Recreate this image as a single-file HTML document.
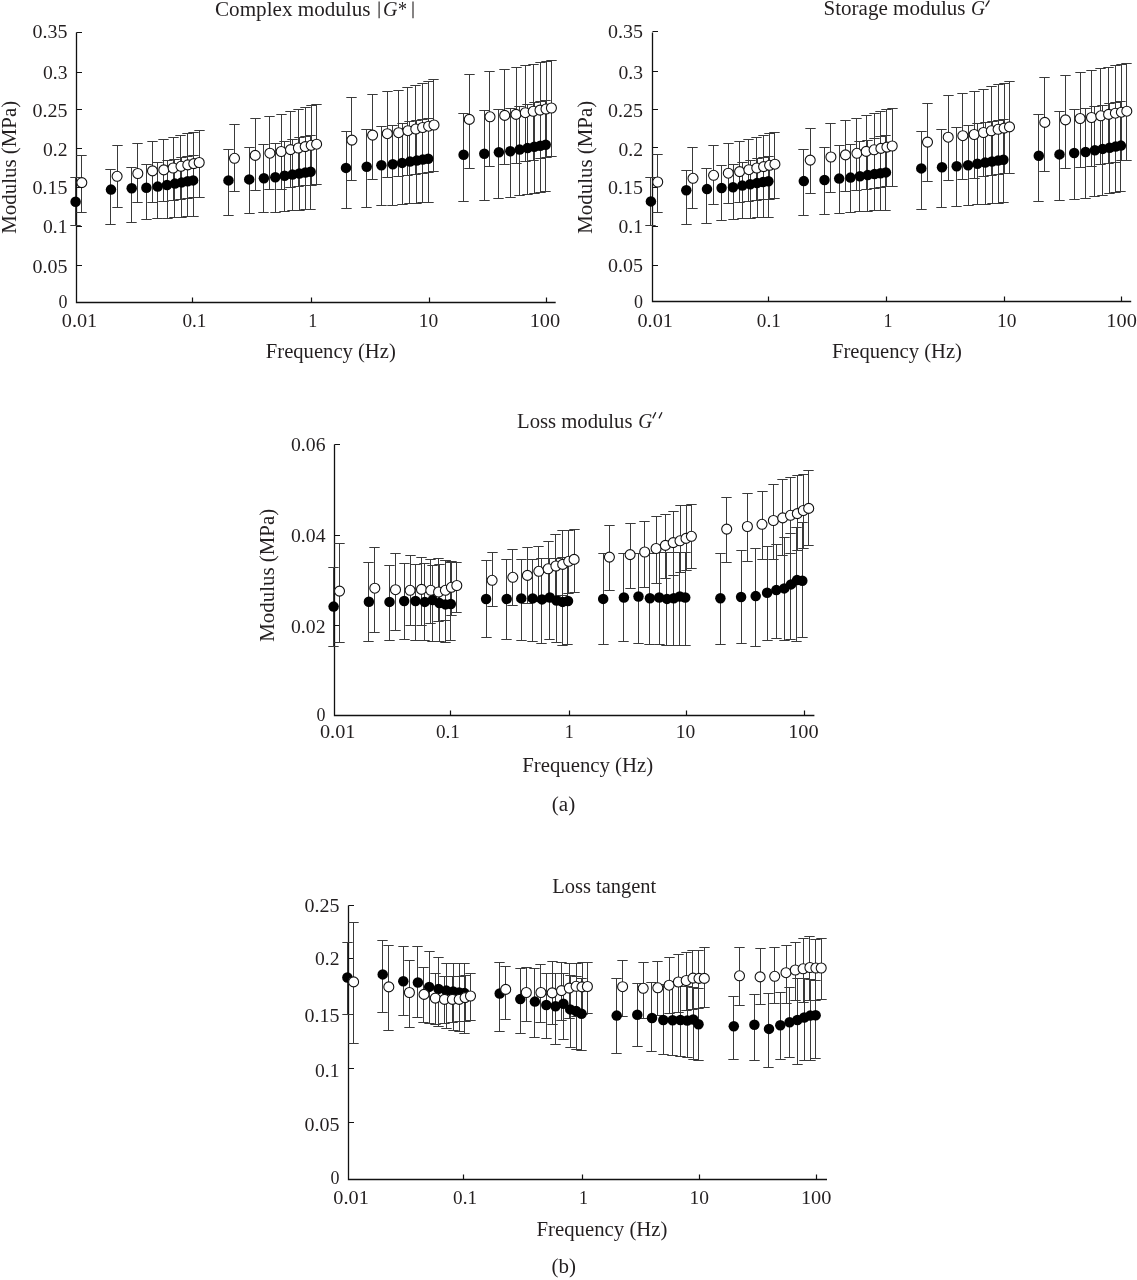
<!DOCTYPE html>
<html><head><meta charset="utf-8"><style>
html,body{margin:0;padding:0;background:#fff;}
svg{display:block;will-change:transform;}
text{font-family:"Liberation Serif",serif;fill:#231f20;}
</style></head><body>
<svg width="1137" height="1280" viewBox="0 0 1137 1280">
<path d="M76.5 32.5V302.5H555.7" fill="none" stroke="#111" stroke-width="1.3"/>
<path d="M76.5 265.5h5.5M76.5 226.5h5.5M76.5 187.5h5.5M76.5 148.5h5.5M76.5 109.5h5.5M76.5 72.5h5.5M76.5 32.5h5.5M192.5 302.5v-5M311.5 302.5v-5M429.5 302.5v-5M546.5 302.5v-5" fill="none" stroke="#111" stroke-width="1.2"/>
<text x="67.5" y="37.9" font-size="19.5" text-anchor="end" textLength="35" lengthAdjust="spacingAndGlyphs" >0.35</text>
<text x="67.5" y="79.1" font-size="19.5" text-anchor="end" textLength="24.5" lengthAdjust="spacingAndGlyphs" >0.3</text>
<text x="67.5" y="116.7" font-size="19.5" text-anchor="end" textLength="35" lengthAdjust="spacingAndGlyphs" >0.25</text>
<text x="67.5" y="155.8" font-size="19.5" text-anchor="end" textLength="24.5" lengthAdjust="spacingAndGlyphs" >0.2</text>
<text x="67.5" y="194.4" font-size="19.5" text-anchor="end" textLength="35" lengthAdjust="spacingAndGlyphs" >0.15</text>
<text x="67.5" y="233.3" font-size="19.5" text-anchor="end" textLength="24.5" lengthAdjust="spacingAndGlyphs" >0.1</text>
<text x="67.5" y="272.7" font-size="19.5" text-anchor="end" textLength="35" lengthAdjust="spacingAndGlyphs" >0.05</text>
<text x="67.5" y="307.8" font-size="19.5" text-anchor="end" textLength="9" lengthAdjust="spacingAndGlyphs" >0</text>
<text x="79.5" y="326.7" font-size="19.5" text-anchor="middle" textLength="35.5" lengthAdjust="spacingAndGlyphs" >0.01</text>
<text x="194.4" y="326.7" font-size="19.5" text-anchor="middle" textLength="24" lengthAdjust="spacingAndGlyphs" >0.1</text>
<text x="312.7" y="326.7" font-size="19.5" text-anchor="middle" textLength="9" lengthAdjust="spacingAndGlyphs" >1</text>
<text x="428.6" y="326.7" font-size="19.5" text-anchor="middle" textLength="19.5" lengthAdjust="spacingAndGlyphs" >10</text>
<text x="544.9" y="326.7" font-size="19.5" text-anchor="middle" textLength="30.5" lengthAdjust="spacingAndGlyphs" >100</text>
<path d="M75.5 177.5V225.5M70.3 177.5h10.4M70.3 225.5h10.4M110.5 169.5V224.5M105.3 169.5h10.4M105.3 224.5h10.4M131.5 167.5V222.5M126.3 167.5h10.4M126.3 222.5h10.4M146.5 164.5V219.5M141.3 164.5h10.4M141.3 219.5h10.4M157.5 162.5V218.5M152.3 162.5h10.4M152.3 218.5h10.4M167.5 160.5V218.5M162.3 160.5h10.4M162.3 218.5h10.4M174.5 159.5V217.5M169.3 159.5h10.4M169.3 217.5h10.4M181.5 157.5V217.5M176.3 157.5h10.4M176.3 217.5h10.4M187.5 156.5V216.5M182.3 156.5h10.4M182.3 216.5h10.4M193.5 155.5V216.5M188.3 155.5h10.4M188.3 216.5h10.4M228.5 149.5V215.5M223.3 149.5h10.4M223.3 215.5h10.4M249.5 147.5V213.5M244.3 147.5h10.4M244.3 213.5h10.4M263.5 144.5V212.5M258.3 144.5h10.4M258.3 212.5h10.4M275.5 143.5V212.5M270.3 143.5h10.4M270.3 212.5h10.4M284.5 141.5V211.5M279.3 141.5h10.4M279.3 211.5h10.4M292.5 139.5V210.5M287.3 139.5h10.4M287.3 210.5h10.4M299.5 137.5V210.5M294.3 137.5h10.4M294.3 210.5h10.4M305.5 136.5V209.5M300.3 136.5h10.4M300.3 209.5h10.4M310.5 135.5V209.5M305.3 135.5h10.4M305.3 209.5h10.4M346.5 131.5V208.5M341.3 131.5h10.4M341.3 208.5h10.4M366.5 129.5V207.5M361.3 129.5h10.4M361.3 207.5h10.4M381.5 126.5V205.5M376.3 126.5h10.4M376.3 205.5h10.4M392.5 125.5V205.5M387.3 125.5h10.4M387.3 205.5h10.4M402.5 123.5V204.5M397.3 123.5h10.4M397.3 204.5h10.4M409.5 121.5V203.5M404.3 121.5h10.4M404.3 203.5h10.4M416.5 120.5V203.5M411.3 120.5h10.4M411.3 203.5h10.4M422.5 119.5V202.5M417.3 119.5h10.4M417.3 202.5h10.4M428.5 118.5V202.5M423.3 118.5h10.4M423.3 202.5h10.4M463.5 113.5V201.5M458.3 113.5h10.4M458.3 201.5h10.4M484.5 110.5V200.5M479.3 110.5h10.4M479.3 200.5h10.4M498.5 109.5V198.5M493.3 109.5h10.4M493.3 198.5h10.4M510.5 108.5V197.5M505.3 108.5h10.4M505.3 197.5h10.4M519.5 106.5V195.5M514.3 106.5h10.4M514.3 195.5h10.4M527.5 104.5V194.5M522.3 104.5h10.4M522.3 194.5h10.4M534.5 102.5V193.5M529.3 102.5h10.4M529.3 193.5h10.4M540.5 101.5V192.5M535.3 101.5h10.4M535.3 192.5h10.4M545.5 100.5V191.5M540.3 100.5h10.4M540.3 191.5h10.4M81.5 155.5V212.5M76.3 155.5h10.4M76.3 212.5h10.4M117.5 145.5V207.5M112.3 145.5h10.4M112.3 207.5h10.4M137.5 143.5V202.5M132.3 143.5h10.4M132.3 202.5h10.4M152.5 141.5V202.5M147.3 141.5h10.4M147.3 202.5h10.4M163.5 139.5V201.5M158.3 139.5h10.4M158.3 201.5h10.4M173.5 137.5V200.5M168.3 137.5h10.4M168.3 200.5h10.4M180.5 135.5V199.5M175.3 135.5h10.4M175.3 199.5h10.4M187.5 133.5V198.5M182.3 133.5h10.4M182.3 198.5h10.4M193.5 132.5V197.5M188.3 132.5h10.4M188.3 197.5h10.4M199.5 130.5V197.5M194.3 130.5h10.4M194.3 197.5h10.4M234.5 124.5V191.5M229.3 124.5h10.4M229.3 191.5h10.4M255.5 118.5V190.5M250.3 118.5h10.4M250.3 190.5h10.4M269.5 116.5V189.5M264.3 116.5h10.4M264.3 189.5h10.4M281.5 114.5V189.5M276.3 114.5h10.4M276.3 189.5h10.4M290.5 111.5V187.5M285.3 111.5h10.4M285.3 187.5h10.4M298.5 109.5V186.5M293.3 109.5h10.4M293.3 186.5h10.4M305.5 107.5V185.5M300.3 107.5h10.4M300.3 185.5h10.4M311.5 105.5V185.5M306.3 105.5h10.4M306.3 185.5h10.4M316.5 104.5V184.5M311.3 104.5h10.4M311.3 184.5h10.4M351.5 97.5V180.5M346.3 97.5h10.4M346.3 180.5h10.4M372.5 94.5V179.5M367.3 94.5h10.4M367.3 179.5h10.4M387.5 91.5V177.5M382.3 91.5h10.4M382.3 177.5h10.4M398.5 90.5V176.5M393.3 90.5h10.4M393.3 176.5h10.4M407.5 87.5V175.5M402.3 87.5h10.4M402.3 175.5h10.4M415.5 85.5V174.5M410.3 85.5h10.4M410.3 174.5h10.4M422.5 83.5V173.5M417.3 83.5h10.4M417.3 173.5h10.4M428.5 81.5V172.5M423.3 81.5h10.4M423.3 172.5h10.4M433.5 79.5V171.5M428.3 79.5h10.4M428.3 171.5h10.4M469.5 74.5V168.5M464.3 74.5h10.4M464.3 168.5h10.4M489.5 71.5V166.5M484.3 71.5h10.4M484.3 166.5h10.4M504.5 69.5V164.5M499.3 69.5h10.4M499.3 164.5h10.4M516.5 67.5V163.5M511.3 67.5h10.4M511.3 163.5h10.4M525.5 65.5V161.5M520.3 65.5h10.4M520.3 161.5h10.4M533.5 64.5V160.5M528.3 64.5h10.4M528.3 160.5h10.4M540.5 62.5V158.5M535.3 62.5h10.4M535.3 158.5h10.4M546.5 61.5V157.5M541.3 61.5h10.4M541.3 157.5h10.4M551.5 60.5V156.5M546.3 60.5h10.4M546.3 156.5h10.4" fill="none" stroke="#3a3a3a" stroke-width="1.0"/>
<g fill="#000"><circle cx="75.6" cy="201.7" r="5.25"/><circle cx="111.0" cy="189.6" r="5.25"/><circle cx="131.7" cy="188.2" r="5.25"/><circle cx="146.4" cy="187.7" r="5.25"/><circle cx="157.7" cy="186.6" r="5.25"/><circle cx="167.0" cy="185.0" r="5.25"/><circle cx="174.9" cy="183.6" r="5.25"/><circle cx="181.7" cy="182.4" r="5.25"/><circle cx="187.7" cy="181.3" r="5.25"/><circle cx="193.1" cy="180.4" r="5.25"/><circle cx="228.5" cy="180.4" r="5.25"/><circle cx="249.2" cy="179.4" r="5.25"/><circle cx="263.9" cy="178.2" r="5.25"/><circle cx="275.3" cy="177.3" r="5.25"/><circle cx="284.6" cy="175.8" r="5.25"/><circle cx="292.4" cy="174.6" r="5.25"/><circle cx="299.3" cy="173.5" r="5.25"/><circle cx="305.3" cy="172.6" r="5.25"/><circle cx="310.6" cy="171.7" r="5.25"/><circle cx="346.0" cy="167.9" r="5.25"/><circle cx="366.7" cy="166.7" r="5.25"/><circle cx="381.4" cy="165.3" r="5.25"/><circle cx="392.8" cy="164.3" r="5.25"/><circle cx="402.1" cy="162.9" r="5.25"/><circle cx="410.0" cy="161.6" r="5.25"/><circle cx="416.8" cy="160.6" r="5.25"/><circle cx="422.8" cy="159.6" r="5.25"/><circle cx="428.2" cy="158.8" r="5.25"/><circle cx="463.6" cy="154.8" r="5.25"/><circle cx="484.3" cy="153.7" r="5.25"/><circle cx="498.9" cy="152.3" r="5.25"/><circle cx="510.3" cy="151.3" r="5.25"/><circle cx="519.6" cy="149.6" r="5.25"/><circle cx="527.5" cy="148.1" r="5.25"/><circle cx="534.3" cy="146.8" r="5.25"/><circle cx="540.3" cy="145.7" r="5.25"/><circle cx="545.7" cy="144.7" r="5.25"/></g>
<g fill="#fff" stroke="#111" stroke-width="1.1"><circle cx="81.8" cy="182.6" r="5.0"/><circle cx="117.1" cy="176.3" r="5.0"/><circle cx="137.8" cy="173.5" r="5.0"/><circle cx="152.5" cy="170.9" r="5.0"/><circle cx="163.8" cy="169.9" r="5.0"/><circle cx="173.1" cy="168.0" r="5.0"/><circle cx="181.0" cy="166.3" r="5.0"/><circle cx="187.8" cy="164.9" r="5.0"/><circle cx="193.8" cy="163.6" r="5.0"/><circle cx="199.2" cy="162.5" r="5.0"/><circle cx="234.5" cy="158.3" r="5.0"/><circle cx="255.2" cy="155.4" r="5.0"/><circle cx="269.9" cy="153.2" r="5.0"/><circle cx="281.2" cy="151.5" r="5.0"/><circle cx="290.5" cy="149.6" r="5.0"/><circle cx="298.4" cy="148.0" r="5.0"/><circle cx="305.2" cy="146.6" r="5.0"/><circle cx="311.2" cy="145.3" r="5.0"/><circle cx="316.6" cy="144.2" r="5.0"/><circle cx="351.9" cy="140.1" r="5.0"/><circle cx="372.6" cy="135.1" r="5.0"/><circle cx="387.3" cy="133.7" r="5.0"/><circle cx="398.6" cy="132.7" r="5.0"/><circle cx="407.9" cy="130.7" r="5.0"/><circle cx="415.8" cy="129.0" r="5.0"/><circle cx="422.6" cy="127.5" r="5.0"/><circle cx="428.6" cy="126.2" r="5.0"/><circle cx="434.0" cy="125.0" r="5.0"/><circle cx="469.3" cy="119.4" r="5.0"/><circle cx="490.0" cy="116.8" r="5.0"/><circle cx="504.7" cy="115.4" r="5.0"/><circle cx="516.0" cy="114.4" r="5.0"/><circle cx="525.3" cy="112.7" r="5.0"/><circle cx="533.2" cy="111.3" r="5.0"/><circle cx="540.0" cy="110.1" r="5.0"/><circle cx="546.0" cy="109.0" r="5.0"/><circle cx="551.4" cy="108.0" r="5.0"/></g>
<path d="M652.5 32.5V301.5H1131.2" fill="none" stroke="#111" stroke-width="1.3"/>
<path d="M652.5 265.5h5.5M652.5 226.5h5.5M652.5 187.5h5.5M652.5 147.5h5.5M652.5 109.5h5.5M652.5 71.5h5.5M652.5 31.5h5.5M768.5 301.5v-5M886.5 301.5v-5M1004.5 301.5v-5M1121.5 301.5v-5" fill="none" stroke="#111" stroke-width="1.2"/>
<text x="643.0" y="37.9" font-size="19.5" text-anchor="end" textLength="35" lengthAdjust="spacingAndGlyphs" >0.35</text>
<text x="643.0" y="78.6" font-size="19.5" text-anchor="end" textLength="24.5" lengthAdjust="spacingAndGlyphs" >0.3</text>
<text x="643.0" y="117.3" font-size="19.5" text-anchor="end" textLength="35" lengthAdjust="spacingAndGlyphs" >0.25</text>
<text x="643.0" y="155.8" font-size="19.5" text-anchor="end" textLength="24.5" lengthAdjust="spacingAndGlyphs" >0.2</text>
<text x="643.0" y="194.4" font-size="19.5" text-anchor="end" textLength="35" lengthAdjust="spacingAndGlyphs" >0.15</text>
<text x="643.0" y="232.9" font-size="19.5" text-anchor="end" textLength="24.5" lengthAdjust="spacingAndGlyphs" >0.1</text>
<text x="643.0" y="272.3" font-size="19.5" text-anchor="end" textLength="35" lengthAdjust="spacingAndGlyphs" >0.05</text>
<text x="643.0" y="307.8" font-size="19.5" text-anchor="end" textLength="9" lengthAdjust="spacingAndGlyphs" >0</text>
<text x="655.2" y="326.7" font-size="19.5" text-anchor="middle" textLength="35.5" lengthAdjust="spacingAndGlyphs" >0.01</text>
<text x="768.8" y="326.7" font-size="19.5" text-anchor="middle" textLength="24" lengthAdjust="spacingAndGlyphs" >0.1</text>
<text x="888.1" y="326.7" font-size="19.5" text-anchor="middle" textLength="9" lengthAdjust="spacingAndGlyphs" >1</text>
<text x="1006.8" y="326.7" font-size="19.5" text-anchor="middle" textLength="19.5" lengthAdjust="spacingAndGlyphs" >10</text>
<text x="1121.6" y="326.7" font-size="19.5" text-anchor="middle" textLength="30.5" lengthAdjust="spacingAndGlyphs" >100</text>
<path d="M650.5 177.5V225.5M645.3 177.5h10.4M645.3 225.5h10.4M686.5 170.5V224.5M681.3 170.5h10.4M681.3 224.5h10.4M706.5 168.5V223.5M701.3 168.5h10.4M701.3 223.5h10.4M721.5 165.5V220.5M716.3 165.5h10.4M716.3 220.5h10.4M733.5 164.5V219.5M728.3 164.5h10.4M728.3 219.5h10.4M742.5 162.5V218.5M737.3 162.5h10.4M737.3 218.5h10.4M750.5 160.5V218.5M745.3 160.5h10.4M745.3 218.5h10.4M757.5 158.5V217.5M752.3 158.5h10.4M752.3 217.5h10.4M763.5 157.5V217.5M758.3 157.5h10.4M758.3 217.5h10.4M768.5 156.5V217.5M763.3 156.5h10.4M763.3 217.5h10.4M803.5 149.5V215.5M798.3 149.5h10.4M798.3 215.5h10.4M824.5 147.5V214.5M819.3 147.5h10.4M819.3 214.5h10.4M839.5 145.5V213.5M834.3 145.5h10.4M834.3 213.5h10.4M850.5 144.5V212.5M845.3 144.5h10.4M845.3 212.5h10.4M859.5 141.5V211.5M854.3 141.5h10.4M854.3 211.5h10.4M867.5 140.5V211.5M862.3 140.5h10.4M862.3 211.5h10.4M874.5 138.5V210.5M869.3 138.5h10.4M869.3 210.5h10.4M880.5 136.5V210.5M875.3 136.5h10.4M875.3 210.5h10.4M885.5 135.5V210.5M880.3 135.5h10.4M880.3 210.5h10.4M921.5 131.5V209.5M916.3 131.5h10.4M916.3 209.5h10.4M941.5 129.5V207.5M936.3 129.5h10.4M936.3 207.5h10.4M956.5 127.5V206.5M951.3 127.5h10.4M951.3 206.5h10.4M968.5 125.5V205.5M963.3 125.5h10.4M963.3 205.5h10.4M977.5 123.5V204.5M972.3 123.5h10.4M972.3 204.5h10.4M985.5 122.5V204.5M980.3 122.5h10.4M980.3 204.5h10.4M992.5 121.5V203.5M987.3 121.5h10.4M987.3 203.5h10.4M998.5 120.5V203.5M993.3 120.5h10.4M993.3 203.5h10.4M1003.5 119.5V202.5M998.3 119.5h10.4M998.3 202.5h10.4M1038.5 114.5V201.5M1033.3 114.5h10.4M1033.3 201.5h10.4M1059.5 111.5V200.5M1054.3 111.5h10.4M1054.3 200.5h10.4M1074.5 109.5V199.5M1069.3 109.5h10.4M1069.3 199.5h10.4M1085.5 108.5V198.5M1080.3 108.5h10.4M1080.3 198.5h10.4M1094.5 106.5V196.5M1089.3 106.5h10.4M1089.3 196.5h10.4M1102.5 105.5V195.5M1097.3 105.5h10.4M1097.3 195.5h10.4M1109.5 103.5V193.5M1104.3 103.5h10.4M1104.3 193.5h10.4M1115.5 102.5V192.5M1110.3 102.5h10.4M1110.3 192.5h10.4M1120.5 101.5V191.5M1115.3 101.5h10.4M1115.3 191.5h10.4M657.5 154.5V212.5M652.3 154.5h10.4M652.3 212.5h10.4M692.5 147.5V208.5M687.3 147.5h10.4M687.3 208.5h10.4M713.5 145.5V204.5M708.3 145.5h10.4M708.3 204.5h10.4M728.5 143.5V203.5M723.3 143.5h10.4M723.3 203.5h10.4M739.5 141.5V202.5M734.3 141.5h10.4M734.3 202.5h10.4M748.5 139.5V201.5M743.3 139.5h10.4M743.3 201.5h10.4M756.5 137.5V200.5M751.3 137.5h10.4M751.3 200.5h10.4M763.5 135.5V199.5M758.3 135.5h10.4M758.3 199.5h10.4M769.5 133.5V199.5M764.3 133.5h10.4M764.3 199.5h10.4M774.5 132.5V198.5M769.3 132.5h10.4M769.3 198.5h10.4M810.5 128.5V193.5M805.3 128.5h10.4M805.3 193.5h10.4M830.5 123.5V192.5M825.3 123.5h10.4M825.3 192.5h10.4M845.5 120.5V191.5M840.3 120.5h10.4M840.3 191.5h10.4M856.5 118.5V190.5M851.3 118.5h10.4M851.3 190.5h10.4M866.5 115.5V189.5M861.3 115.5h10.4M861.3 189.5h10.4M874.5 113.5V188.5M869.3 113.5h10.4M869.3 188.5h10.4M880.5 111.5V187.5M875.3 111.5h10.4M875.3 187.5h10.4M886.5 109.5V186.5M881.3 109.5h10.4M881.3 186.5h10.4M892.5 108.5V186.5M887.3 108.5h10.4M887.3 186.5h10.4M927.5 103.5V181.5M922.3 103.5h10.4M922.3 181.5h10.4M948.5 95.5V180.5M943.3 95.5h10.4M943.3 180.5h10.4M962.5 93.5V179.5M957.3 93.5h10.4M957.3 179.5h10.4M974.5 91.5V178.5M969.3 91.5h10.4M969.3 178.5h10.4M983.5 89.5V176.5M978.3 89.5h10.4M978.3 176.5h10.4M991.5 86.5V175.5M986.3 86.5h10.4M986.3 175.5h10.4M998.5 84.5V174.5M993.3 84.5h10.4M993.3 174.5h10.4M1004.5 83.5V173.5M999.3 83.5h10.4M999.3 173.5h10.4M1009.5 81.5V173.5M1004.3 81.5h10.4M1004.3 173.5h10.4M1044.5 77.5V171.5M1039.3 77.5h10.4M1039.3 171.5h10.4M1065.5 75.5V168.5M1060.3 75.5h10.4M1060.3 168.5h10.4M1080.5 72.5V167.5M1075.3 72.5h10.4M1075.3 167.5h10.4M1091.5 70.5V166.5M1086.3 70.5h10.4M1086.3 166.5h10.4M1100.5 68.5V164.5M1095.3 68.5h10.4M1095.3 164.5h10.4M1108.5 67.5V163.5M1103.3 67.5h10.4M1103.3 163.5h10.4M1115.5 65.5V162.5M1110.3 65.5h10.4M1110.3 162.5h10.4M1121.5 64.5V160.5M1116.3 64.5h10.4M1116.3 160.5h10.4M1126.5 63.5V160.5M1121.3 63.5h10.4M1121.3 160.5h10.4" fill="none" stroke="#3a3a3a" stroke-width="1.0"/>
<g fill="#000"><circle cx="650.9" cy="201.4" r="5.25"/><circle cx="686.3" cy="190.3" r="5.25"/><circle cx="707.0" cy="189.1" r="5.25"/><circle cx="721.6" cy="188.0" r="5.25"/><circle cx="733.0" cy="187.2" r="5.25"/><circle cx="742.3" cy="185.6" r="5.25"/><circle cx="750.2" cy="184.3" r="5.25"/><circle cx="757.0" cy="183.1" r="5.25"/><circle cx="763.0" cy="182.1" r="5.25"/><circle cx="768.4" cy="181.2" r="5.25"/><circle cx="803.8" cy="181.1" r="5.25"/><circle cx="824.5" cy="180.0" r="5.25"/><circle cx="839.2" cy="178.6" r="5.25"/><circle cx="850.5" cy="177.6" r="5.25"/><circle cx="859.9" cy="176.2" r="5.25"/><circle cx="867.7" cy="175.1" r="5.25"/><circle cx="874.5" cy="174.1" r="5.25"/><circle cx="880.5" cy="173.2" r="5.25"/><circle cx="885.9" cy="172.4" r="5.25"/><circle cx="921.3" cy="168.4" r="5.25"/><circle cx="942.0" cy="167.3" r="5.25"/><circle cx="956.7" cy="166.2" r="5.25"/><circle cx="968.1" cy="165.3" r="5.25"/><circle cx="977.4" cy="163.8" r="5.25"/><circle cx="985.2" cy="162.6" r="5.25"/><circle cx="992.0" cy="161.5" r="5.25"/><circle cx="998.1" cy="160.6" r="5.25"/><circle cx="1003.4" cy="159.7" r="5.25"/><circle cx="1038.8" cy="155.8" r="5.25"/><circle cx="1059.5" cy="154.4" r="5.25"/><circle cx="1074.2" cy="153.0" r="5.25"/><circle cx="1085.6" cy="152.0" r="5.25"/><circle cx="1094.9" cy="150.3" r="5.25"/><circle cx="1102.7" cy="148.9" r="5.25"/><circle cx="1109.6" cy="147.7" r="5.25"/><circle cx="1115.6" cy="146.6" r="5.25"/><circle cx="1120.9" cy="145.6" r="5.25"/></g>
<g fill="#fff" stroke="#111" stroke-width="1.1"><circle cx="657.7" cy="182.0" r="5.0"/><circle cx="693.0" cy="178.3" r="5.0"/><circle cx="713.6" cy="175.3" r="5.0"/><circle cx="728.3" cy="173.2" r="5.0"/><circle cx="739.6" cy="171.6" r="5.0"/><circle cx="748.9" cy="169.7" r="5.0"/><circle cx="756.8" cy="168.0" r="5.0"/><circle cx="763.6" cy="166.6" r="5.0"/><circle cx="769.6" cy="165.3" r="5.0"/><circle cx="774.9" cy="164.2" r="5.0"/><circle cx="810.2" cy="160.1" r="5.0"/><circle cx="830.9" cy="157.0" r="5.0"/><circle cx="845.5" cy="154.9" r="5.0"/><circle cx="856.9" cy="153.3" r="5.0"/><circle cx="866.2" cy="151.4" r="5.0"/><circle cx="874.1" cy="149.8" r="5.0"/><circle cx="880.9" cy="148.4" r="5.0"/><circle cx="886.9" cy="147.1" r="5.0"/><circle cx="892.2" cy="146.0" r="5.0"/><circle cx="927.5" cy="142.1" r="5.0"/><circle cx="948.2" cy="137.2" r="5.0"/><circle cx="962.8" cy="135.7" r="5.0"/><circle cx="974.2" cy="134.5" r="5.0"/><circle cx="983.5" cy="132.5" r="5.0"/><circle cx="991.3" cy="130.8" r="5.0"/><circle cx="998.1" cy="129.3" r="5.0"/><circle cx="1004.1" cy="128.1" r="5.0"/><circle cx="1009.5" cy="126.9" r="5.0"/><circle cx="1044.8" cy="122.4" r="5.0"/><circle cx="1065.5" cy="119.9" r="5.0"/><circle cx="1080.1" cy="118.5" r="5.0"/><circle cx="1091.5" cy="117.5" r="5.0"/><circle cx="1100.8" cy="115.8" r="5.0"/><circle cx="1108.6" cy="114.4" r="5.0"/><circle cx="1115.4" cy="113.2" r="5.0"/><circle cx="1121.4" cy="112.2" r="5.0"/><circle cx="1126.8" cy="111.2" r="5.0"/></g>
<path d="M334.5 444.5V715.5H814.4" fill="none" stroke="#111" stroke-width="1.3"/>
<path d="M334.5 625.5h5.5M334.5 535.5h5.5M334.5 444.5h5.5M450.5 715.5v-5M569.5 715.5v-5M686.5 715.5v-5M804.5 715.5v-5" fill="none" stroke="#111" stroke-width="1.2"/>
<text x="325.5" y="451.4" font-size="19.5" text-anchor="end" textLength="34.5" lengthAdjust="spacingAndGlyphs" >0.06</text>
<text x="325.5" y="542.0" font-size="19.5" text-anchor="end" textLength="34.5" lengthAdjust="spacingAndGlyphs" >0.04</text>
<text x="325.5" y="632.6" font-size="19.5" text-anchor="end" textLength="34.5" lengthAdjust="spacingAndGlyphs" >0.02</text>
<text x="325.5" y="720.5" font-size="19.5" text-anchor="end" textLength="9" lengthAdjust="spacingAndGlyphs" >0</text>
<text x="337.7" y="738.4" font-size="19.5" text-anchor="middle" textLength="35.5" lengthAdjust="spacingAndGlyphs" >0.01</text>
<text x="447.9" y="738.4" font-size="19.5" text-anchor="middle" textLength="24" lengthAdjust="spacingAndGlyphs" >0.1</text>
<text x="569.2" y="738.4" font-size="19.5" text-anchor="middle" textLength="9" lengthAdjust="spacingAndGlyphs" >1</text>
<text x="685.5" y="738.4" font-size="19.5" text-anchor="middle" textLength="19.5" lengthAdjust="spacingAndGlyphs" >10</text>
<text x="803.4" y="738.4" font-size="19.5" text-anchor="middle" textLength="30.5" lengthAdjust="spacingAndGlyphs" >100</text>
<path d="M333.5 567.5V646.5M328.3 567.5h10.4M328.3 646.5h10.4M368.5 562.5V641.5M363.3 562.5h10.4M363.3 641.5h10.4M389.5 565.5V640.5M384.3 565.5h10.4M384.3 640.5h10.4M404.5 563.5V639.5M399.3 563.5h10.4M399.3 639.5h10.4M415.5 564.5V640.5M410.3 564.5h10.4M410.3 640.5h10.4M424.5 563.5V640.5M419.3 563.5h10.4M419.3 640.5h10.4M432.5 565.5V641.5M427.3 565.5h10.4M427.3 641.5h10.4M439.5 564.5V641.5M434.3 564.5h10.4M434.3 641.5h10.4M445.5 560.5V642.5M440.3 560.5h10.4M440.3 642.5h10.4M450.5 562.5V640.5M445.3 562.5h10.4M445.3 640.5h10.4M486.5 560.5V637.5M481.3 560.5h10.4M481.3 637.5h10.4M506.5 559.5V639.5M501.3 559.5h10.4M501.3 639.5h10.4M521.5 559.5V640.5M516.3 559.5h10.4M516.3 640.5h10.4M532.5 559.5V641.5M527.3 559.5h10.4M527.3 641.5h10.4M541.5 558.5V643.5M536.3 558.5h10.4M536.3 643.5h10.4M549.5 558.5V639.5M544.3 558.5h10.4M544.3 639.5h10.4M556.5 558.5V642.5M551.3 558.5h10.4M551.3 642.5h10.4M562.5 557.5V645.5M557.3 557.5h10.4M557.3 645.5h10.4M567.5 557.5V644.5M562.3 557.5h10.4M562.3 644.5h10.4M603.5 553.5V644.5M598.3 553.5h10.4M598.3 644.5h10.4M623.5 553.5V641.5M618.3 553.5h10.4M618.3 641.5h10.4M638.5 553.5V643.5M633.3 553.5h10.4M633.3 643.5h10.4M649.5 553.5V644.5M644.3 553.5h10.4M644.3 644.5h10.4M659.5 552.5V644.5M654.3 552.5h10.4M654.3 644.5h10.4M666.5 552.5V645.5M661.3 552.5h10.4M661.3 645.5h10.4M673.5 552.5V645.5M668.3 552.5h10.4M668.3 645.5h10.4M679.5 552.5V645.5M674.3 552.5h10.4M674.3 645.5h10.4M685.5 552.5V645.5M680.3 552.5h10.4M680.3 645.5h10.4M720.5 553.5V644.5M715.3 553.5h10.4M715.3 644.5h10.4M741.5 550.5V643.5M736.3 550.5h10.4M736.3 643.5h10.4M755.5 548.5V646.5M750.3 548.5h10.4M750.3 646.5h10.4M767.5 546.5V640.5M762.3 546.5h10.4M762.3 640.5h10.4M776.5 544.5V638.5M771.3 544.5h10.4M771.3 638.5h10.4M784.5 537.5V640.5M779.3 537.5h10.4M779.3 640.5h10.4M790.5 533.5V639.5M785.3 533.5h10.4M785.3 639.5h10.4M796.5 527.5V641.5M791.3 527.5h10.4M791.3 641.5h10.4M802.5 522.5V637.5M797.3 522.5h10.4M797.3 637.5h10.4M339.5 543.5V642.5M334.3 543.5h10.4M334.3 642.5h10.4M374.5 547.5V632.5M369.3 547.5h10.4M369.3 632.5h10.4M395.5 553.5V630.5M390.3 553.5h10.4M390.3 630.5h10.4M410.5 555.5V625.5M405.3 555.5h10.4M405.3 625.5h10.4M421.5 557.5V625.5M416.3 557.5h10.4M416.3 625.5h10.4M430.5 559.5V623.5M425.3 559.5h10.4M425.3 623.5h10.4M438.5 558.5V621.5M433.3 558.5h10.4M433.3 621.5h10.4M445.5 560.5V620.5M440.3 560.5h10.4M440.3 620.5h10.4M451.5 561.5V615.5M446.3 561.5h10.4M446.3 615.5h10.4M456.5 562.5V612.5M451.3 562.5h10.4M451.3 612.5h10.4M492.5 552.5V606.5M487.3 552.5h10.4M487.3 606.5h10.4M512.5 549.5V605.5M507.3 549.5h10.4M507.3 605.5h10.4M527.5 547.5V603.5M522.3 547.5h10.4M522.3 603.5h10.4M538.5 546.5V601.5M533.3 546.5h10.4M533.3 601.5h10.4M548.5 541.5V598.5M543.3 541.5h10.4M543.3 598.5h10.4M555.5 534.5V596.5M550.3 534.5h10.4M550.3 596.5h10.4M562.5 530.5V595.5M557.3 530.5h10.4M557.3 595.5h10.4M568.5 530.5V593.5M563.3 530.5h10.4M563.3 593.5h10.4M574.5 529.5V592.5M569.3 529.5h10.4M569.3 592.5h10.4M609.5 525.5V590.5M604.3 525.5h10.4M604.3 590.5h10.4M630.5 523.5V588.5M625.3 523.5h10.4M625.3 588.5h10.4M644.5 521.5V587.5M639.3 521.5h10.4M639.3 587.5h10.4M656.5 516.5V583.5M651.3 516.5h10.4M651.3 583.5h10.4M665.5 514.5V578.5M660.3 514.5h10.4M660.3 578.5h10.4M673.5 511.5V575.5M668.3 511.5h10.4M668.3 575.5h10.4M680.5 505.5V572.5M675.3 505.5h10.4M675.3 572.5h10.4M686.5 505.5V570.5M681.3 505.5h10.4M681.3 570.5h10.4M691.5 504.5V568.5M686.3 504.5h10.4M686.3 568.5h10.4M726.5 497.5V562.5M721.3 497.5h10.4M721.3 562.5h10.4M747.5 493.5V561.5M742.3 493.5h10.4M742.3 561.5h10.4M762.5 491.5V559.5M757.3 491.5h10.4M757.3 559.5h10.4M773.5 484.5V559.5M768.3 484.5h10.4M768.3 559.5h10.4M782.5 479.5V555.5M777.3 479.5h10.4M777.3 555.5h10.4M790.5 477.5V553.5M785.3 477.5h10.4M785.3 553.5h10.4M797.5 475.5V550.5M792.3 475.5h10.4M792.3 550.5h10.4M803.5 474.5V548.5M798.3 474.5h10.4M798.3 548.5h10.4M808.5 470.5V545.5M803.3 470.5h10.4M803.3 545.5h10.4" fill="none" stroke="#3a3a3a" stroke-width="1.0"/>
<g fill="#000"><circle cx="333.6" cy="606.6" r="5.25"/><circle cx="368.9" cy="601.8" r="5.25"/><circle cx="389.5" cy="601.9" r="5.25"/><circle cx="404.2" cy="601.0" r="5.25"/><circle cx="415.5" cy="601.0" r="5.25"/><circle cx="424.8" cy="601.9" r="5.25"/><circle cx="432.6" cy="600.1" r="5.25"/><circle cx="439.4" cy="603.1" r="5.25"/><circle cx="445.4" cy="604.4" r="5.25"/><circle cx="450.8" cy="604.0" r="5.25"/><circle cx="486.1" cy="599.0" r="5.25"/><circle cx="506.7" cy="599.0" r="5.25"/><circle cx="521.3" cy="598.4" r="5.25"/><circle cx="532.7" cy="598.4" r="5.25"/><circle cx="542.0" cy="599.4" r="5.25"/><circle cx="549.8" cy="597.5" r="5.25"/><circle cx="556.6" cy="600.6" r="5.25"/><circle cx="562.6" cy="601.9" r="5.25"/><circle cx="568.0" cy="601.0" r="5.25"/><circle cx="603.2" cy="598.9" r="5.25"/><circle cx="623.9" cy="597.5" r="5.25"/><circle cx="638.5" cy="596.5" r="5.25"/><circle cx="649.9" cy="598.2" r="5.25"/><circle cx="659.2" cy="597.5" r="5.25"/><circle cx="667.0" cy="598.9" r="5.25"/><circle cx="673.8" cy="598.2" r="5.25"/><circle cx="679.8" cy="596.5" r="5.25"/><circle cx="685.2" cy="597.5" r="5.25"/><circle cx="720.4" cy="598.2" r="5.25"/><circle cx="741.1" cy="597.0" r="5.25"/><circle cx="755.7" cy="596.1" r="5.25"/><circle cx="767.1" cy="592.7" r="5.25"/><circle cx="776.3" cy="590.1" r="5.25"/><circle cx="784.2" cy="588.4" r="5.25"/><circle cx="791.0" cy="584.4" r="5.25"/><circle cx="797.0" cy="580.1" r="5.25"/><circle cx="802.3" cy="580.7" r="5.25"/></g>
<g fill="#fff" stroke="#111" stroke-width="1.1"><circle cx="339.5" cy="591.1" r="5.0"/><circle cx="374.8" cy="588.2" r="5.0"/><circle cx="395.5" cy="589.7" r="5.0"/><circle cx="410.1" cy="590.3" r="5.0"/><circle cx="421.5" cy="589.4" r="5.0"/><circle cx="430.8" cy="590.3" r="5.0"/><circle cx="438.6" cy="592.0" r="5.0"/><circle cx="445.4" cy="590.3" r="5.0"/><circle cx="451.4" cy="587.3" r="5.0"/><circle cx="456.8" cy="585.5" r="5.0"/><circle cx="492.1" cy="580.3" r="5.0"/><circle cx="512.8" cy="577.3" r="5.0"/><circle cx="527.4" cy="575.4" r="5.0"/><circle cx="538.8" cy="571.3" r="5.0"/><circle cx="548.1" cy="568.8" r="5.0"/><circle cx="555.9" cy="566.0" r="5.0"/><circle cx="562.7" cy="564.4" r="5.0"/><circle cx="568.7" cy="561.3" r="5.0"/><circle cx="574.1" cy="559.4" r="5.0"/><circle cx="609.4" cy="557.1" r="5.0"/><circle cx="630.1" cy="554.6" r="5.0"/><circle cx="644.7" cy="552.0" r="5.0"/><circle cx="656.1" cy="548.5" r="5.0"/><circle cx="665.4" cy="545.4" r="5.0"/><circle cx="673.2" cy="542.6" r="5.0"/><circle cx="680.0" cy="540.8" r="5.0"/><circle cx="686.0" cy="538.4" r="5.0"/><circle cx="691.4" cy="536.3" r="5.0"/><circle cx="726.7" cy="529.1" r="5.0"/><circle cx="747.4" cy="526.5" r="5.0"/><circle cx="762.0" cy="524.3" r="5.0"/><circle cx="773.4" cy="520.5" r="5.0"/><circle cx="782.7" cy="517.9" r="5.0"/><circle cx="790.5" cy="515.3" r="5.0"/><circle cx="797.3" cy="513.6" r="5.0"/><circle cx="803.3" cy="510.5" r="5.0"/><circle cx="808.7" cy="508.4" r="5.0"/></g>
<path d="M348.5 905.5V1179.5H827.0" fill="none" stroke="#111" stroke-width="1.3"/>
<path d="M348.5 1122.5h5.5M348.5 1068.5h5.5M348.5 1014.5h5.5M348.5 958.5h5.5M348.5 905.5h5.5M463.5 1179.5v-5M582.5 1179.5v-5M699.5 1179.5v-5M816.5 1179.5v-5" fill="none" stroke="#111" stroke-width="1.2"/>
<text x="339.5" y="911.6" font-size="19.5" text-anchor="end" textLength="35" lengthAdjust="spacingAndGlyphs" >0.25</text>
<text x="339.5" y="965.1" font-size="19.5" text-anchor="end" textLength="24.5" lengthAdjust="spacingAndGlyphs" >0.2</text>
<text x="339.5" y="1022.4" font-size="19.5" text-anchor="end" textLength="35" lengthAdjust="spacingAndGlyphs" >0.15</text>
<text x="339.5" y="1077.1" font-size="19.5" text-anchor="end" textLength="24.5" lengthAdjust="spacingAndGlyphs" >0.1</text>
<text x="339.5" y="1131.0" font-size="19.5" text-anchor="end" textLength="35" lengthAdjust="spacingAndGlyphs" >0.05</text>
<text x="339.5" y="1184.1" font-size="19.5" text-anchor="end" textLength="9" lengthAdjust="spacingAndGlyphs" >0</text>
<text x="351.1" y="1204.1" font-size="19.5" text-anchor="middle" textLength="35.5" lengthAdjust="spacingAndGlyphs" >0.01</text>
<text x="465.1" y="1204.1" font-size="19.5" text-anchor="middle" textLength="24" lengthAdjust="spacingAndGlyphs" >0.1</text>
<text x="583.6" y="1204.1" font-size="19.5" text-anchor="middle" textLength="9" lengthAdjust="spacingAndGlyphs" >1</text>
<text x="699.2" y="1204.1" font-size="19.5" text-anchor="middle" textLength="19.5" lengthAdjust="spacingAndGlyphs" >10</text>
<text x="816.2" y="1204.1" font-size="19.5" text-anchor="middle" textLength="30.5" lengthAdjust="spacingAndGlyphs" >100</text>
<path d="M347.5 942.5V1014.5M342.3 942.5h10.4M342.3 1014.5h10.4M382.5 940.5V1012.5M377.3 940.5h10.4M377.3 1012.5h10.4M403.5 946.5V1015.5M398.3 946.5h10.4M398.3 1015.5h10.4M417.5 946.5V1017.5M412.3 946.5h10.4M412.3 1017.5h10.4M429.5 951.5V1023.5M424.3 951.5h10.4M424.3 1023.5h10.4M438.5 957.5V1026.5M433.3 957.5h10.4M433.3 1026.5h10.4M446.5 963.5V1028.5M441.3 963.5h10.4M441.3 1028.5h10.4M453.5 963.5V1030.5M448.3 963.5h10.4M448.3 1030.5h10.4M459.5 963.5V1031.5M454.3 963.5h10.4M454.3 1031.5h10.4M464.5 963.5V1033.5M459.3 963.5h10.4M459.3 1033.5h10.4M499.5 962.5V1031.5M494.3 962.5h10.4M494.3 1031.5h10.4M520.5 968.5V1033.5M515.3 968.5h10.4M515.3 1033.5h10.4M534.5 968.5V1037.5M529.3 968.5h10.4M529.3 1037.5h10.4M546.5 973.5V1038.5M541.3 973.5h10.4M541.3 1038.5h10.4M555.5 973.5V1044.5M550.3 973.5h10.4M550.3 1044.5h10.4M563.5 973.5V1039.5M558.3 973.5h10.4M558.3 1039.5h10.4M570.5 975.5V1047.5M565.3 975.5h10.4M565.3 1047.5h10.4M576.5 976.5V1049.5M571.3 976.5h10.4M571.3 1049.5h10.4M581.5 978.5V1050.5M576.3 978.5h10.4M576.3 1050.5h10.4M616.5 978.5V1053.5M611.3 978.5h10.4M611.3 1053.5h10.4M637.5 983.5V1046.5M632.3 983.5h10.4M632.3 1046.5h10.4M651.5 982.5V1051.5M646.3 982.5h10.4M646.3 1051.5h10.4M663.5 984.5V1054.5M658.3 984.5h10.4M658.3 1054.5h10.4M672.5 985.5V1055.5M667.3 985.5h10.4M667.3 1055.5h10.4M680.5 986.5V1056.5M675.3 986.5h10.4M675.3 1056.5h10.4M687.5 986.5V1057.5M682.3 986.5h10.4M682.3 1057.5h10.4M693.5 987.5V1059.5M688.3 987.5h10.4M688.3 1059.5h10.4M698.5 988.5V1060.5M693.3 988.5h10.4M693.3 1060.5h10.4M733.5 996.5V1059.5M728.3 996.5h10.4M728.3 1059.5h10.4M754.5 994.5V1060.5M749.3 994.5h10.4M749.3 1060.5h10.4M768.5 993.5V1067.5M763.3 993.5h10.4M763.3 1067.5h10.4M780.5 992.5V1059.5M775.3 992.5h10.4M775.3 1059.5h10.4M789.5 987.5V1057.5M784.3 987.5h10.4M784.3 1057.5h10.4M797.5 978.5V1064.5M792.3 978.5h10.4M792.3 1064.5h10.4M804.5 978.5V1060.5M799.3 978.5h10.4M799.3 1060.5h10.4M810.5 979.5V1060.5M805.3 979.5h10.4M805.3 1060.5h10.4M815.5 980.5V1058.5M810.3 980.5h10.4M810.3 1058.5h10.4M353.5 922.5V1043.5M348.3 922.5h10.4M348.3 1043.5h10.4M388.5 945.5V1030.5M383.3 945.5h10.4M383.3 1030.5h10.4M409.5 960.5V1027.5M404.3 960.5h10.4M404.3 1027.5h10.4M423.5 967.5V1022.5M418.3 967.5h10.4M418.3 1022.5h10.4M435.5 973.5V1024.5M430.3 973.5h10.4M430.3 1024.5h10.4M444.5 976.5V1023.5M439.3 976.5h10.4M439.3 1023.5h10.4M452.5 976.5V1022.5M447.3 976.5h10.4M447.3 1022.5h10.4M459.5 976.5V1021.5M454.3 976.5h10.4M454.3 1021.5h10.4M465.5 975.5V1021.5M460.3 975.5h10.4M460.3 1021.5h10.4M470.5 973.5V1020.5M465.3 973.5h10.4M465.3 1020.5h10.4M505.5 966.5V1019.5M500.3 966.5h10.4M500.3 1019.5h10.4M526.5 967.5V1021.5M521.3 967.5h10.4M521.3 1021.5h10.4M540.5 964.5V1022.5M535.3 964.5h10.4M535.3 1022.5h10.4M552.5 961.5V1024.5M547.3 961.5h10.4M547.3 1024.5h10.4M561.5 962.5V1020.5M556.3 962.5h10.4M556.3 1020.5h10.4M569.5 963.5V1018.5M564.3 963.5h10.4M564.3 1018.5h10.4M576.5 963.5V1016.5M571.3 963.5h10.4M571.3 1016.5h10.4M582.5 962.5V1014.5M577.3 962.5h10.4M577.3 1014.5h10.4M587.5 962.5V1013.5M582.3 962.5h10.4M582.3 1013.5h10.4M622.5 960.5V1016.5M617.3 960.5h10.4M617.3 1016.5h10.4M643.5 962.5V1018.5M638.3 962.5h10.4M638.3 1018.5h10.4M657.5 961.5V1015.5M652.3 961.5h10.4M652.3 1015.5h10.4M669.5 957.5V1013.5M664.3 957.5h10.4M664.3 1013.5h10.4M678.5 954.5V1012.5M673.3 954.5h10.4M673.3 1012.5h10.4M686.5 952.5V1010.5M681.3 952.5h10.4M681.3 1010.5h10.4M692.5 950.5V1009.5M687.3 950.5h10.4M687.3 1009.5h10.4M698.5 950.5V1008.5M693.3 950.5h10.4M693.3 1008.5h10.4M704.5 947.5V1007.5M699.3 947.5h10.4M699.3 1007.5h10.4M739.5 947.5V1005.5M734.3 947.5h10.4M734.3 1005.5h10.4M760.5 948.5V1004.5M755.3 948.5h10.4M755.3 1004.5h10.4M774.5 947.5V1003.5M769.3 947.5h10.4M769.3 1003.5h10.4M786.5 945.5V1003.5M781.3 945.5h10.4M781.3 1003.5h10.4M795.5 942.5V1000.5M790.3 942.5h10.4M790.3 1000.5h10.4M803.5 938.5V1002.5M798.3 938.5h10.4M798.3 1002.5h10.4M809.5 936.5V1000.5M804.3 936.5h10.4M804.3 1000.5h10.4M815.5 939.5V1000.5M810.3 939.5h10.4M810.3 1000.5h10.4M821.5 938.5V999.5M816.3 938.5h10.4M816.3 999.5h10.4" fill="none" stroke="#3a3a3a" stroke-width="1.0"/>
<g fill="#000"><circle cx="347.4" cy="977.5" r="5.25"/><circle cx="382.7" cy="974.4" r="5.25"/><circle cx="403.3" cy="981.3" r="5.25"/><circle cx="417.9" cy="982.5" r="5.25"/><circle cx="429.2" cy="986.9" r="5.25"/><circle cx="438.5" cy="988.9" r="5.25"/><circle cx="446.3" cy="990.6" r="5.25"/><circle cx="453.1" cy="991.5" r="5.25"/><circle cx="459.1" cy="992.4" r="5.25"/><circle cx="464.5" cy="993.1" r="5.25"/><circle cx="499.7" cy="993.5" r="5.25"/><circle cx="520.3" cy="999.1" r="5.25"/><circle cx="534.9" cy="1001.6" r="5.25"/><circle cx="546.3" cy="1005.0" r="5.25"/><circle cx="555.5" cy="1006.3" r="5.25"/><circle cx="563.4" cy="1003.8" r="5.25"/><circle cx="570.2" cy="1009.4" r="5.25"/><circle cx="576.1" cy="1011.0" r="5.25"/><circle cx="581.5" cy="1013.8" r="5.25"/><circle cx="616.7" cy="1015.6" r="5.25"/><circle cx="637.3" cy="1014.8" r="5.25"/><circle cx="652.0" cy="1018.0" r="5.25"/><circle cx="663.3" cy="1020.0" r="5.25"/><circle cx="672.6" cy="1020.3" r="5.25"/><circle cx="680.4" cy="1020.0" r="5.25"/><circle cx="687.2" cy="1020.6" r="5.25"/><circle cx="693.2" cy="1019.5" r="5.25"/><circle cx="698.5" cy="1024.2" r="5.25"/><circle cx="733.8" cy="1026.3" r="5.25"/><circle cx="754.4" cy="1024.7" r="5.25"/><circle cx="769.0" cy="1028.9" r="5.25"/><circle cx="780.3" cy="1025.3" r="5.25"/><circle cx="789.6" cy="1022.2" r="5.25"/><circle cx="797.4" cy="1020.0" r="5.25"/><circle cx="804.2" cy="1017.5" r="5.25"/><circle cx="810.2" cy="1015.6" r="5.25"/><circle cx="815.6" cy="1015.3" r="5.25"/></g>
<g fill="#fff" stroke="#111" stroke-width="1.1"><circle cx="353.6" cy="981.9" r="5.0"/><circle cx="388.8" cy="986.9" r="5.0"/><circle cx="409.4" cy="992.5" r="5.0"/><circle cx="424.0" cy="994.4" r="5.0"/><circle cx="435.3" cy="998.1" r="5.0"/><circle cx="444.5" cy="999.4" r="5.0"/><circle cx="452.4" cy="999.4" r="5.0"/><circle cx="459.2" cy="999.4" r="5.0"/><circle cx="465.1" cy="997.6" r="5.0"/><circle cx="470.5" cy="996.0" r="5.0"/><circle cx="505.7" cy="989.4" r="5.0"/><circle cx="526.3" cy="992.5" r="5.0"/><circle cx="540.9" cy="992.5" r="5.0"/><circle cx="552.2" cy="992.9" r="5.0"/><circle cx="561.5" cy="990.6" r="5.0"/><circle cx="569.3" cy="988.1" r="5.0"/><circle cx="576.1" cy="986.3" r="5.0"/><circle cx="582.0" cy="986.9" r="5.0"/><circle cx="587.4" cy="986.5" r="5.0"/><circle cx="622.6" cy="986.7" r="5.0"/><circle cx="643.2" cy="988.3" r="5.0"/><circle cx="657.8" cy="987.8" r="5.0"/><circle cx="669.1" cy="985.2" r="5.0"/><circle cx="678.4" cy="982.0" r="5.0"/><circle cx="686.2" cy="980.5" r="5.0"/><circle cx="693.0" cy="978.1" r="5.0"/><circle cx="699.0" cy="978.4" r="5.0"/><circle cx="704.3" cy="978.4" r="5.0"/><circle cx="739.5" cy="975.8" r="5.0"/><circle cx="760.1" cy="976.9" r="5.0"/><circle cx="774.7" cy="976.3" r="5.0"/><circle cx="786.0" cy="972.7" r="5.0"/><circle cx="795.3" cy="970.0" r="5.0"/><circle cx="803.1" cy="968.8" r="5.0"/><circle cx="809.9" cy="967.5" r="5.0"/><circle cx="815.9" cy="968.0" r="5.0"/><circle cx="821.2" cy="968.0" r="5.0"/></g>
<text x="215.0" y="15.8" font-size="20.5" textLength="155.5" lengthAdjust="spacingAndGlyphs">Complex modulus</text>
<path d="M379.1 1.4V18.3M413.0 1.4V18.3" stroke="#231f20" stroke-width="1.1"/>
<text x="383.0" y="15.8" font-size="20.5" font-style="italic" textLength="14.5" lengthAdjust="spacingAndGlyphs">G</text>
<text x="398.0" y="15.8" font-size="20.5" textLength="9" lengthAdjust="spacingAndGlyphs">*</text>
<text x="823.5" y="15.4" font-size="20.5" textLength="142" lengthAdjust="spacingAndGlyphs">Storage modulus</text>
<text x="971.0" y="15.4" font-size="20.5" font-style="italic" textLength="14" lengthAdjust="spacingAndGlyphs">G</text>
<path d="M989.4 0.4L985.6 6.6" stroke="#231f20" stroke-width="1.3"/>
<text x="517.0" y="427.7" font-size="20.5" textLength="115.5" lengthAdjust="spacingAndGlyphs">Loss modulus</text>
<text x="638.3" y="427.7" font-size="20.5" font-style="italic" textLength="14" lengthAdjust="spacingAndGlyphs">G</text>
<path d="M655.8 412.2L652.8 418.4M662.0 412.2L659.0 418.4" stroke="#231f20" stroke-width="1.3"/>
<text x="552.2" y="892.7" font-size="20.5" textLength="104" lengthAdjust="spacingAndGlyphs">Loss tangent</text>
<text x="265.8" y="357.7" font-size="20.5" textLength="130" lengthAdjust="spacingAndGlyphs">Frequency (Hz)</text>
<text x="832.0" y="357.9" font-size="20.5" textLength="130" lengthAdjust="spacingAndGlyphs">Frequency (Hz)</text>
<text x="522.2" y="772.1" font-size="20.5" textLength="131" lengthAdjust="spacingAndGlyphs">Frequency (Hz)</text>
<text x="536.5" y="1235.5" font-size="20.5" textLength="131" lengthAdjust="spacingAndGlyphs">Frequency (Hz)</text>
<text x="551.8" y="810.5" font-size="20.5" textLength="23.5" lengthAdjust="spacingAndGlyphs">(a)</text>
<text x="551.6" y="1273.2" font-size="20.5" textLength="24.5" lengthAdjust="spacingAndGlyphs">(b)</text>
<text transform="translate(16.4 233.8) rotate(-90)" font-size="20.5" textLength="133" lengthAdjust="spacingAndGlyphs">Modulus (MPa)</text>
<text transform="translate(592.0 233.8) rotate(-90)" font-size="20.5" textLength="133" lengthAdjust="spacingAndGlyphs">Modulus (MPa)</text>
<text transform="translate(274.4 641.8) rotate(-90)" font-size="20.5" textLength="133" lengthAdjust="spacingAndGlyphs">Modulus (MPa)</text>
</svg></body></html>
